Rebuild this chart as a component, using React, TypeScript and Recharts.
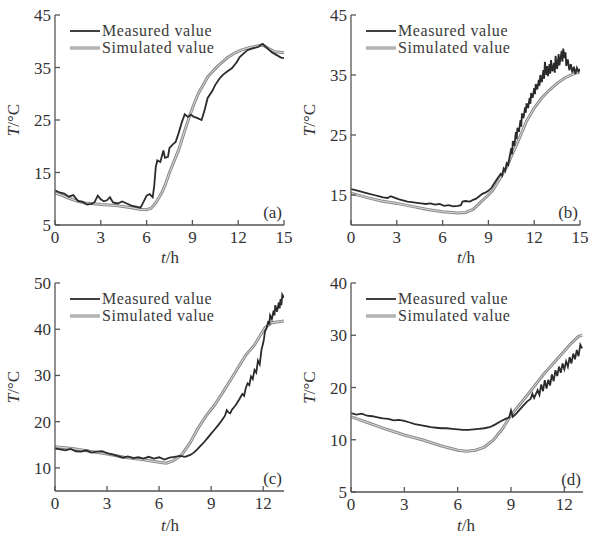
import { Line, LineChart, XAxis, YAxis } from "recharts";

const FONT = "Liberation Serif, DejaVu Serif, Times New Roman, serif";
const INK = "#2b2b2b";
const GREY = "#8a8a8a";

type Pt = [number, number];

// panel (a)
const measuredA: Pt[] = [
  [0, 11.6], [0.3, 11.2], [0.6, 11.0], [0.9, 10.4], [1.2, 10.7], [1.5, 9.6], [1.8, 9.4],
  [2.1, 8.9], [2.4, 9.0], [2.6, 9.4], [2.8, 10.6], [3.0, 9.9], [3.2, 9.5], [3.4, 9.7],
  [3.6, 10.3], [3.8, 9.3], [4.1, 9.1], [4.4, 9.5], [4.7, 9.1], [5.0, 8.7], [5.3, 8.5],
  [5.6, 8.3], [5.8, 9.4], [6.0, 10.6], [6.2, 10.9], [6.4, 10.3], [6.5, 12.5], [6.6, 16.0],
  [6.7, 17.3], [6.9, 17.0], [7.1, 19.2], [7.2, 17.8], [7.4, 18.0], [7.5, 19.7], [7.7, 20.3],
  [7.9, 20.8], [8.1, 22.5], [8.3, 24.5], [8.5, 26.1], [8.7, 25.6], [8.9, 26.0], [9.1, 25.6],
  [9.3, 25.4], [9.6, 25.0], [9.8, 26.9], [10.0, 29.2], [10.3, 30.5], [10.5, 31.7], [10.8, 33.0],
  [11.0, 33.6], [11.3, 34.3], [11.6, 34.9], [11.9, 36.0], [12.1, 37.0], [12.4, 37.8],
  [12.6, 38.3], [12.9, 38.6], [13.3, 38.9], [13.6, 39.5], [13.9, 38.7], [14.2, 37.9],
  [14.5, 37.4], [14.8, 36.9], [15.0, 36.8],
];
const simulatedA: Pt[] = [
  [0, 11.1], [0.5, 10.6], [1, 10.0], [1.5, 9.5], [2, 9.2], [3, 8.9], [4, 8.7], [5, 8.3],
  [5.5, 8.0], [6, 7.9], [6.3, 8.2], [6.6, 9.2], [7, 11.2], [7.2, 12.5], [7.5, 15.0],
  [8.1, 19.3], [8.5, 23.0], [8.8, 25.6], [9.1, 28.0], [9.4, 30.1], [10, 33.2], [10.5, 34.8],
  [10.9, 35.9], [11.3, 36.9], [11.8, 37.8], [12.2, 38.3], [12.6, 38.7], [13.1, 39.0],
  [13.6, 39.3], [14.0, 38.6], [14.4, 38.0], [15, 37.8],
];

// panel (b)
const measuredB: Pt[] = [
  [0, 16.0], [0.3, 15.8], [0.6, 15.6], [0.9, 15.4], [1.2, 15.2], [1.5, 15.0], [1.8, 14.8],
  [2.1, 14.6], [2.4, 14.5], [2.6, 14.8], [2.8, 14.6], [3.1, 14.3], [3.4, 14.1], [3.7, 13.9],
  [4.0, 13.8], [4.3, 13.7], [4.6, 13.6], [4.9, 13.5], [5.2, 13.6], [5.5, 13.4], [5.8, 13.5],
  [6.1, 13.2], [6.4, 13.3], [6.7, 13.1], [7.0, 13.2], [7.2, 13.3], [7.3, 13.9], [7.5, 14.0],
  [7.8, 13.9], [8.0, 14.2], [8.2, 14.4], [8.4, 14.8], [8.6, 15.2], [8.8, 15.4], [9.0, 15.7],
  [9.2, 16.2], [9.4, 17.0], [9.6, 17.8], [9.8, 18.5], [9.9, 18.2], [10.0, 19.4], [10.1, 19.0],
  [10.2, 20.3], [10.3, 20.0], [10.4, 21.5], [10.5, 22.8], [10.55, 21.8], [10.6, 24.0],
  [10.7, 23.2], [10.8, 25.5], [10.85, 24.3], [10.9, 26.2], [11.0, 25.5], [11.1, 27.5],
  [11.15, 26.4], [11.2, 28.6], [11.3, 27.8], [11.4, 29.6], [11.45, 28.7], [11.5, 30.3],
  [11.6, 29.5], [11.7, 31.2], [11.75, 30.2], [11.8, 32.0], [11.9, 31.2], [12.0, 32.8],
  [12.05, 31.8], [12.1, 33.5], [12.2, 32.6], [12.3, 34.2], [12.35, 33.2], [12.4, 35.0],
  [12.5, 33.8], [12.6, 35.8], [12.65, 34.4], [12.7, 37.2], [12.8, 35.0], [12.85, 36.5],
  [12.9, 34.8], [13.0, 36.8], [13.05, 35.2], [13.1, 37.5], [13.2, 35.6], [13.3, 37.0],
  [13.35, 35.4], [13.4, 38.2], [13.5, 36.0], [13.6, 38.5], [13.65, 36.6], [13.7, 37.4],
  [13.8, 39.0], [13.85, 37.2], [13.9, 39.4], [14.0, 37.8], [14.05, 38.8], [14.1, 36.5],
  [14.2, 37.6], [14.3, 35.8], [14.4, 36.8], [14.5, 35.4], [14.6, 36.4], [14.7, 35.2],
  [14.8, 36.2], [14.9, 35.6], [15.0, 36.0],
];
const simulatedB: Pt[] = [
  [0, 15.3], [1, 14.6], [2, 14.0], [3, 13.6], [4, 13.1], [5, 12.6], [6, 12.2], [7, 12.0],
  [7.5, 12.1], [8, 12.6], [8.5, 13.8], [9, 15.0], [9.3, 15.8], [9.7, 17.5], [10.2, 19.7],
  [10.6, 22.0], [10.9, 23.7], [11.5, 27.3], [12.0, 29.5], [12.5, 31.2], [13.0, 32.5],
  [13.5, 33.6], [14.0, 34.5], [14.5, 35.1], [15, 35.5],
];

// panel (c)
const measuredC: Pt[] = [
  [0, 14.2], [0.3, 14.0], [0.6, 13.8], [0.9, 14.1], [1.2, 13.6], [1.5, 13.5], [1.8, 13.8],
  [2.1, 13.3], [2.4, 13.5], [2.7, 13.6], [3.0, 13.2], [3.3, 12.9], [3.6, 12.6], [3.9, 12.2],
  [4.2, 12.5], [4.5, 12.1], [4.8, 12.3], [5.1, 12.0], [5.4, 12.4], [5.7, 12.0], [6.0, 12.3],
  [6.3, 11.8], [6.6, 12.2], [6.9, 12.4], [7.2, 12.6], [7.5, 12.4], [7.8, 12.8], [8.0, 13.3],
  [8.2, 14.0], [8.4, 14.8], [8.6, 15.6], [8.8, 16.5], [9.0, 17.4], [9.2, 18.3], [9.4, 19.2],
  [9.6, 20.2], [9.8, 21.3], [9.9, 22.5], [10.0, 22.0], [10.1, 21.8], [10.2, 22.6],
  [10.4, 23.5], [10.6, 24.7], [10.8, 26.0], [10.9, 25.6], [11.0, 27.3], [11.1, 28.3],
  [11.2, 27.9], [11.3, 29.8], [11.4, 29.2], [11.5, 31.2], [11.6, 30.6], [11.7, 33.2],
  [11.8, 32.4], [11.9, 35.5], [12.0, 37.0], [12.05, 38.0], [12.1, 39.5], [12.2, 40.3],
  [12.3, 41.8], [12.35, 41.0], [12.4, 43.0], [12.5, 42.2], [12.6, 44.0], [12.65, 43.0],
  [12.7, 45.2], [12.8, 43.8], [12.9, 45.8], [12.95, 44.5], [13.0, 46.5], [13.05, 45.2],
  [13.1, 47.5], [13.2, 46.8],
];
const simulatedC: Pt[] = [
  [0, 14.6], [1, 14.2], [2, 13.6], [3, 13.0], [4, 12.3], [5, 11.8], [6, 11.2], [6.4, 11.0],
  [6.8, 11.5], [7.3, 12.8], [7.8, 15.5], [8.25, 18.6], [8.7, 21.2], [9.2, 23.6], [9.7, 26.5],
  [10.2, 29.5], [10.6, 32.0], [11.0, 34.4], [11.5, 36.6], [12.1, 40.3], [12.5, 41.4],
  [13.2, 41.8],
];

// panel (d)
const measuredD: Pt[] = [
  [0, 15.1], [0.3, 14.8], [0.6, 15.0], [0.9, 14.6], [1.2, 14.5], [1.5, 14.3], [1.8, 14.1],
  [2.1, 14.0], [2.4, 13.7], [2.7, 13.8], [3.0, 13.6], [3.3, 13.3], [3.6, 13.0], [3.9, 12.8],
  [4.2, 12.6], [4.5, 12.4], [4.8, 12.3], [5.1, 12.2], [5.4, 12.2], [5.7, 12.1], [6.0, 12.0],
  [6.3, 11.9], [6.6, 11.9], [6.9, 12.0], [7.2, 12.1], [7.5, 12.2], [7.8, 12.4], [8.1, 12.9],
  [8.4, 13.5], [8.7, 14.0], [8.9, 14.3], [9.0, 15.6], [9.1, 14.4], [9.3, 15.0], [9.6, 16.2],
  [9.9, 17.3], [10.1, 17.8], [10.2, 18.8], [10.3, 18.0], [10.5, 19.5], [10.6, 18.6],
  [10.7, 20.6], [10.8, 19.3], [10.9, 21.4], [11.0, 19.8], [11.1, 21.5], [11.2, 20.4],
  [11.3, 22.5], [11.4, 21.2], [11.5, 23.3], [11.6, 22.2], [11.7, 24.0], [11.8, 22.8],
  [11.9, 24.6], [12.0, 23.5], [12.1, 25.0], [12.2, 24.0], [12.3, 25.8], [12.4, 24.6],
  [12.5, 26.5], [12.6, 25.4], [12.7, 27.2], [12.8, 26.0], [12.9, 28.2], [13.0, 27.5],
];
const simulatedD: Pt[] = [
  [0, 14.4], [0.5, 13.8], [1, 13.2], [2, 12.0], [3, 10.9], [4, 10.0], [5, 8.9], [6, 8.0],
  [6.5, 7.8], [7, 8.0], [7.5, 8.6], [8, 9.9], [8.5, 12.0], [9.0, 14.7], [9.5, 16.8],
  [10.0, 18.9], [10.8, 22.4], [11.8, 26.2], [12.4, 28.5], [12.8, 29.8], [13.0, 30.0],
];

const xTicks15 = [0, 3, 6, 9, 12, 15];
const xTicks13 = [0, 3, 6, 9, 12];

const toRows = (pts: Pt[]) => pts.map(([t, T]) => ({ t, T }));

interface PanelProps {
  left: number;
  top: number;
  tag: string;
  measured: Pt[];
  simulated: Pt[];
  xMax: number;
  xTicks: number[];
  yDomain: [number, number];
  yTicks: number[];
  yText?: (v: number) => string;
  plotRight: number;
  plotBottom: number;
}

const tickStyle = { fill: "#333", fontSize: 17, fontFamily: FONT };

function Panel(p: PanelProps) {
  const W = 296;
  const H = 268;
  const mid = (15 + p.plotBottom) / 2;
  return (
    <div style={{ position: "absolute", left: p.left, top: p.top, width: W, height: H }}>
      <LineChart width={W} height={H} margin={{ top: 15, right: W - p.plotRight, bottom: 0, left: 15 }}>
        <XAxis
          xAxisId="b"
          type="number"
          dataKey="t"
          domain={[0, p.xMax]}
          ticks={p.xTicks}
          allowDataOverflow
          height={H - p.plotBottom}
          tickSize={-5}
          tickMargin={11}
          stroke="#555"
          strokeWidth={1.3}
          tick={tickStyle}
          label={{
            content: () => (
              <text x={170} y={263} textAnchor="middle" fontFamily={FONT} fontSize={17} fill="#333">
                <tspan fontStyle="italic">t</tspan>/h
              </text>
            ),
          }}
        />
        <XAxis xAxisId="top" orientation="top" type="number" dataKey="t" domain={[0, p.xMax]} height={0} tick={false} tickLine={false} stroke="#555" strokeWidth={1.3} />
        <YAxis
          yAxisId="l"
          type="number"
          domain={p.yDomain}
          ticks={p.yTicks}
          allowDataOverflow
          width={40}
          tickSize={-5}
          tickMargin={9}
          stroke="#555"
          strokeWidth={1.3}
          tick={tickStyle}
          tickFormatter={(v) => (p.yText ? p.yText(Number(v)) : String(v))}
          label={{
            content: () => (
              <text x={19} y={mid} transform={`rotate(-90 19 ${mid})`} textAnchor="middle" fontFamily={FONT} fontSize={17} fill="#333">
                <tspan fontStyle="italic">T</tspan>/°C
              </text>
            ),
          }}
        />
        <YAxis yAxisId="r" orientation="right" type="number" domain={p.yDomain} width={0} tick={false} tickLine={false} stroke="#555" strokeWidth={1.3} />
        <Line xAxisId="b" yAxisId="l" data={toRows(p.simulated)} dataKey="T" stroke={GREY} strokeWidth={3} dot={false} isAnimationActive={false} />
        <Line xAxisId="b" yAxisId="l" data={toRows(p.simulated)} dataKey="T" stroke="#dcdcdc" strokeWidth={1} dot={false} isAnimationActive={false} />
        <Line xAxisId="b" yAxisId="l" data={toRows(p.measured)} dataKey="T" stroke={INK} strokeWidth={1.8} dot={false} isAnimationActive={false} />
      </LineChart>
      <svg width={W} height={H} style={{ position: "absolute", left: 0, top: 0, pointerEvents: "none" }}>
        <line x1={70} x2={100} y1={31} y2={31} stroke={INK} strokeWidth={1.8} />
        <line x1={70} x2={100} y1={48} y2={48} stroke={GREY} strokeWidth={3} />
        <line x1={70} x2={100} y1={48} y2={48} stroke="#dcdcdc" strokeWidth={1} />
        <text x={102} y={36} fontFamily={FONT} fontSize={16} letterSpacing={0.6} fill="#3a3a3a">Measured value</text>
        <text x={102} y={53} fontFamily={FONT} fontSize={16} letterSpacing={0.6} fill="#3a3a3a">Simulated value</text>
        <text x={p.plotRight - 2} y={p.plotBottom - 7} textAnchor="end" fontFamily={FONT} fontSize={17} fill="#333">{p.tag}</text>
      </svg>
    </div>
  );
}

export default function App() {
  return (
    <div style={{ position: "absolute", left: 0, top: 0, width: 592, height: 536, background: "#fff" }}>
      <Panel left={0} top={0} tag="(a)" measured={measuredA} simulated={simulatedA} xMax={15} xTicks={xTicks15}
        yDomain={[5, 45]} yTicks={[5, 15, 25, 35, 45]} plotRight={284} plotBottom={225} />
      <Panel left={296} top={0} tag="(b)" measured={measuredB} simulated={simulatedB} xMax={15} xTicks={xTicks15}
        yDomain={[10, 45]} yTicks={[15, 25, 35, 45]} plotRight={284} plotBottom={225} />
      <Panel left={0} top={268} tag="(c)" measured={measuredC} simulated={simulatedC} xMax={13.2} xTicks={xTicks13}
        yDomain={[5, 50]} yTicks={[10, 20, 30, 40, 50]} plotRight={284} plotBottom={223} />
      <Panel left={296} top={268} tag="(d)" measured={measuredD} simulated={simulatedD} xMax={13.05} xTicks={xTicks13}
        yDomain={[0, 40]} yTicks={[0, 10, 20, 30, 40]} yText={(v) => (v === 0 ? "5" : String(v))} plotRight={287} plotBottom={224} />
    </div>
  );
}
